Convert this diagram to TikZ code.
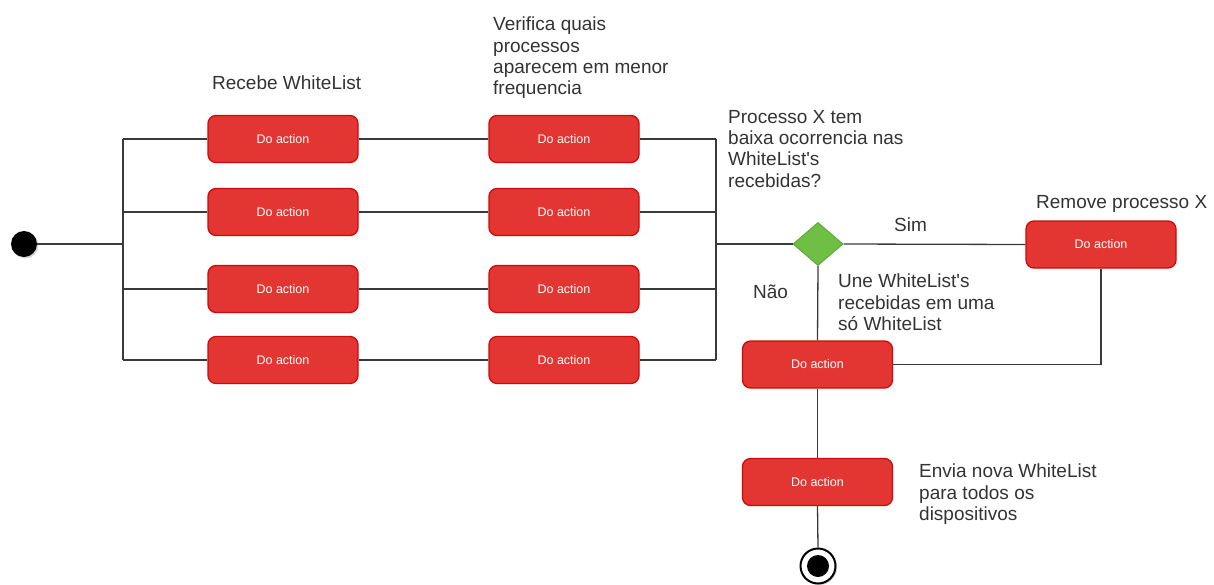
\documentclass[tikz,border=0pt]{standalone}
\usepackage{fontspec}
\setmainfont{Liberation Sans}[Ligatures=TeXOff]
\usetikzlibrary{shapes.geometric,shadows}
\definecolor{actfill}{HTML}{E33632}
\definecolor{actdraw}{HTML}{D00A0A}
\definecolor{decfill}{HTML}{6FBF45}
\definecolor{decdraw}{HTML}{5AA838}
\definecolor{wire}{HTML}{3A3A3A}
\definecolor{ink}{HTML}{333333}
\tikzset{
  actbox/.style={draw=actdraw, fill=actfill, line width=1.3pt, rounded corners=8pt,
    minimum width=150pt, minimum height=47pt, inner sep=0pt, text=white,
    font=\fontsize{12.5}{14}\selectfont},
  decbox/.style={diamond, draw=decdraw, fill=decfill, line width=1pt,
    minimum width=50pt, minimum height=43pt, inner sep=0pt},
  wireline/.style={draw=wire, line width=1.3pt},
  lbl/.style={inner sep=0pt, text=ink, align=left, font=\fontsize{19}{21.3}\selectfont},
  startdot/.style={circle, fill=black, minimum size=26pt, inner sep=0pt,
    drop shadow={opacity=0.3, shadow xshift=1.5pt, shadow yshift=-1.5pt}},
  enddot/.style={circle, draw=black, line width=2pt, fill=white, minimum size=35pt, inner sep=0pt,
    drop shadow={opacity=0.3, shadow xshift=1.5pt, shadow yshift=-1.5pt}},
}
\begin{document}
\begin{tikzpicture}[x=1pt, y=-1pt]
\useasboundingbox (0,0) rectangle (1214,584);

% initial state
\node[startdot] (start) at (24,244) {};

% fork and join bars
\coordinate (forkTop) at (123,139);
\coordinate (forkBot) at (123,360);
\coordinate (joinTop) at (716,139);
\coordinate (joinBot) at (716,360);
\coordinate (joinMid) at (716,244);

% two parallel columns of actions
\foreach \r/\y in {1/139, 2/212, 3/289, 4/360} {
  \node[actbox] (a\r) at (283,\y) {Do action};
  \node[actbox] (b\r) at (564,\y) {Do action};
}

% decision and the remaining actions
\node[decbox] (dec) at (818,244) {};
\node[actbox] (rem) at (1101,244.5) {Do action};
\node[actbox] (merge) at (817.5,364.5) {Do action};
\node[actbox] (send) at (817.5,482) {Do action};
\node[enddot] (end) at (818,566) {};
\fill[black] (end.center) circle (11pt);

% connectors
\draw[wireline] (forkTop) -- (forkBot);
\draw[wireline] (start.east) -- (start.east -| forkTop);
\draw[wireline] (joinTop) -- (joinBot);
\foreach \r in {1,2,3,4} {
  \draw[wireline] (a\r.west -| forkTop) -- (a\r.west);
  \draw[wireline] (a\r.east) -- (b\r.west);
  \draw[wireline] (b\r.east) -- (b\r.east -| joinTop);
}
\draw[wireline] (joinMid) -- (dec.west);
\draw[wireline] (dec.east) -- (rem.west);
\draw[wireline] (rem.south) |- (merge.east);
\draw[wireline] (dec.south) -- (merge.north);
\draw[wireline] (merge.south) -- (send.north);
\draw[wireline] (send.south) -- (end.north);

% labels
\node[lbl, anchor=base west] (tRecebe) at (212,89) {Recebe WhiteList};
\node[lbl, anchor=north west] (tVerifica) at (493,17) {Verifica quais\\processos\\aparecem em menor\\frequencia};
\node[lbl, anchor=north west] (tProcesso) at (728,110) {Processo X tem\\baixa ocorrencia nas\\WhiteList's\\recebidas?};
\node[lbl, anchor=base west] (tRemove) at (1036,208.5) {Remove processo X};
\node[lbl, anchor=base west] (tSim) at (894,231.5) {Sim};
\node[lbl, anchor=base west] (tNao) at (753,298.5) {Não};
\node[lbl, anchor=north west] (tUne) at (838,274) {Une WhiteList's\\recebidas em uma\\só WhiteList};
\node[lbl, anchor=north west] (tEnvia) at (919,464) {Envia nova WhiteList\\para todos os\\dispositivos};
\end{tikzpicture}
\end{document}
